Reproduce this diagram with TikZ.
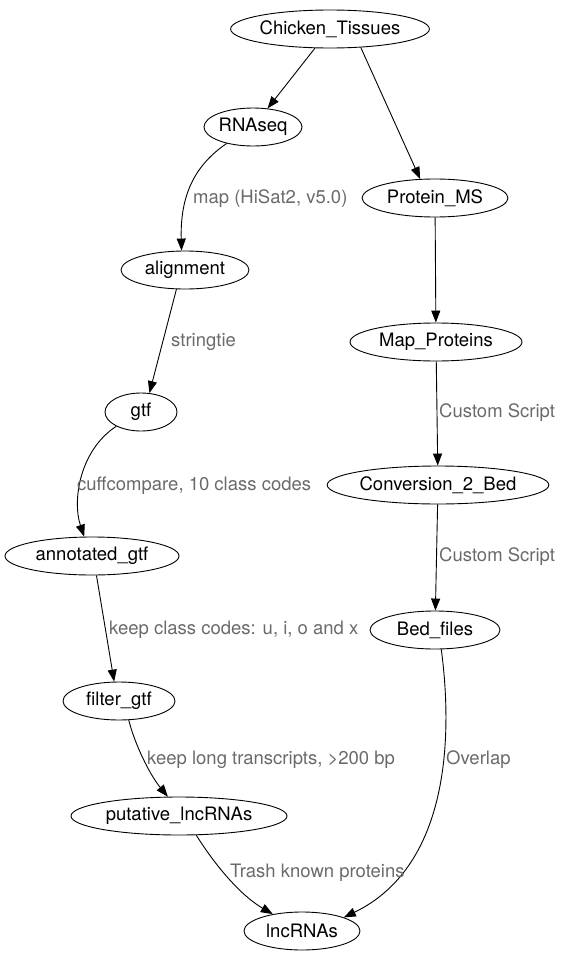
\documentclass[tikz,border=0pt]{standalone}
\usepackage{fontspec}
\setmainfont{TeX Gyre Heros}
\usetikzlibrary{shapes.geometric,arrows.meta}
\definecolor{lblgray}{HTML}{6A6A6A}

\begin{document}
\begin{tikzpicture}
    [x=1pt,y=-1pt,
     stage/.style={ellipse,draw,line width=0.9pt,inner sep=0pt,minimum height=38pt,font=\fontsize{18.5}{20}\selectfont},
     flow/.style={-{Triangle[length=12pt,width=9pt]},line width=0.9pt},
     lbl/.style={text=lblgray,anchor=west,inner sep=0pt,font=\fontsize{18.5}{20}\selectfont}]
    \useasboundingbox (0,0) rectangle (561,961);

    %left branch: transcripts
    \node[stage,minimum width=172pt] (tissues)   at (330,29)  {Chicken\_Tissues};
    \node[stage,minimum width=98pt]  (rnaseq)    at (253,127) {RNAseq};
    \node[stage,minimum width=128pt] (alignment) at (185,270) {alignment};
    \node[stage,minimum width=72pt]  (gtf)       at (141,412) {gtf};
    \node[stage,minimum width=174pt] (annotated) at (92,556)  {annotated\_gtf};
    \node[stage,minimum width=112pt] (filter)    at (119,701) {filter\_gtf};
    \node[stage,minimum width=216pt] (putative)  at (179,816) {putative\_lncRNAs};
    \node[stage,minimum width=116pt] (lncrnas)   at (302,931) {lncRNAs};

    %right branch: proteins
    \node[stage,minimum width=146pt] (proteinms)  at (435,198) {Protein\_MS};
    \node[stage,minimum width=172pt] (mapprot)    at (436,342) {Map\_Proteins};
    \node[stage,minimum width=214pt] (conversion) at (438,485) {Conversion\_2\_Bed};
    \node[stage,minimum width=130pt] (bedfiles)   at (435,630) {Bed\_files};

    %edges
    \draw[flow] (tissues) -- (rnaseq);
    \draw[flow] (tissues.-31) -- (proteinms.128);
    \draw[flow] (rnaseq.-148) .. controls (195,165) and (180,195) .. (alignment.100);
    \draw[flow] (alignment.-114) -- (gtf.66);
    \draw[flow] (gtf.-150) .. controls (80,450) and (72,500) .. (annotated.112);
    \draw[flow] (annotated.-77) -- (filter.104);
    \draw[flow] (filter.-63) .. controls (135,745) and (150,775) .. (putative.120);
    \draw[flow] (putative.-48) .. controls (215,865) and (240,895) .. (lncrnas.150);
    \draw[flow] (proteinms) -- (mapprot);
    \draw[flow] (mapprot) -- (conversion);
    \draw[flow] (conversion) -- (bedfiles);
    \draw[flow] (bedfiles.-72) .. controls (452,730) and (452,865) .. (lncrnas.18);

    %edge labels
    \node[lbl] (lmap)    at (193,199) {map (HiSat2, v5.0)};
    \node[lbl] (lstring) at (171,342) {stringtie};
    \node[lbl] (lcuff)   at (77,486)  {cuffcompare, 10 class codes};
    \node[lbl] (lkeepcc) at (109,630) {keep class codes: u, i, o and x};
    \node[lbl] (lkeeplt) at (147,760) {keep long transcripts, >200 bp};
    \node[lbl] (ltrash)  at (230,873) {Trash known proteins};
    \node[lbl] (lcust1)  at (439,413) {Custom Script};
    \node[lbl] (lcust2)  at (439,557) {Custom Script};
    \node[lbl] (loverlap) at (446,760) {Overlap};
\end{tikzpicture}
\end{document}
